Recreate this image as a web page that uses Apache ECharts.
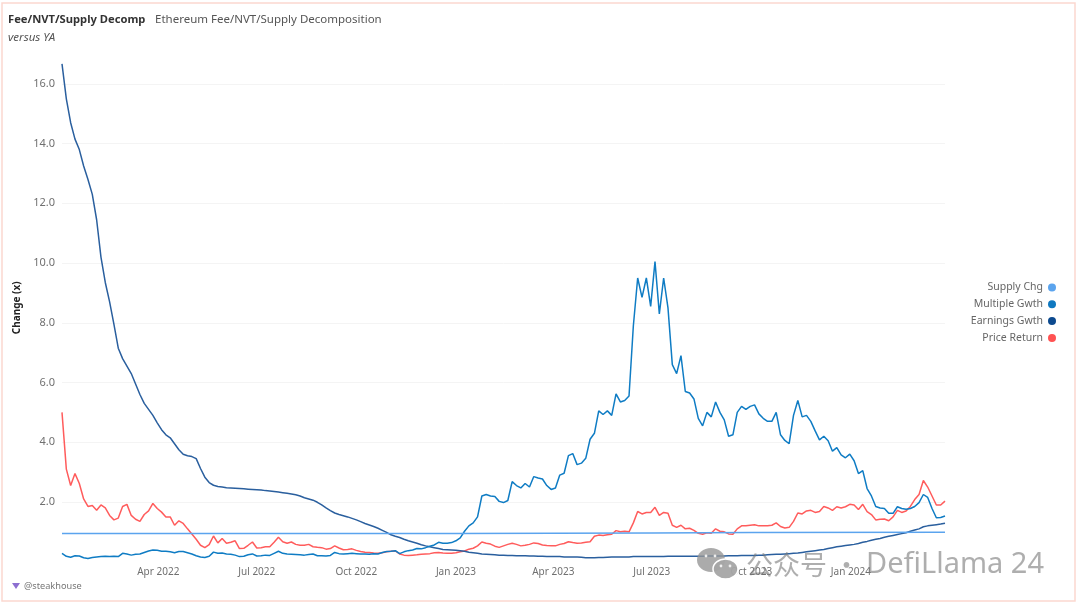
<!DOCTYPE html>
<html>
<head>
<meta charset="utf-8">
<style>
  html, body { margin: 0; padding: 0; background: #fff; }
  #chart { width: 1080px; height: 608px; }
</style>
<script src="https://cdn.jsdelivr.net/npm/echarts@6/dist/echarts.min.js"></script>
</head>
<body>
<div id="chart"></div>
<script>
// sampled every 4 days from the first date
const firstDate = '2022-01-02';
const stepDays = 4;

const priceReturn = [
  5.0, 3.1, 2.55, 2.95, 2.62, 2.1, 1.85, 1.88, 1.72, 1.9,
  1.8, 1.55, 1.4, 1.46, 1.85, 1.92, 1.55, 1.42, 1.35, 1.58,
  1.7, 1.95, 1.78, 1.66, 1.5, 1.5, 1.22, 1.37, 1.28, 1.1,
  .93, .75, .55, .47, .57, .86, .63, .78, .62, .65,
  .7, .44, .45, .55, .66, .46, .47, .5, .5, .65,
  .82, .67, .62, .66, .58, .55, .55, .58, .5, .48,
  .47, .42, .44, .53, .46, .4, .41, .43, .38, .34,
  .32, .31, .29, .28, .3, .33, .35, .36, .26, .22,
  .21, .22, .23, .25, .26, .27, .3, .31, .29, .28,
  .28, .3, .33, .36, .42, .45, .53, .66, .62, .59,
  .52, .48, .53, .58, .62, .58, .53, .55, .58, .63,
  .61, .56, .54, .53, .53, .58, .61, .67, .64, .62,
  .63, .65, .67, .85, .89, .88, .9, .92, 1.04, 1.0,
  1.02, 1.0, 1.3, 1.68, 1.6, 1.65, 1.65, 1.82, 1.55, 1.65,
  1.62, 1.22, 1.15, 1.22, 1.1, 1.12, 1.05, .95, .92, .97,
  .95, 1.1, 1.02, 1.0, .93, .92, 1.1, 1.2, 1.2, 1.22,
  1.24, 1.2, 1.2, 1.2, 1.22, 1.3, 1.18, 1.13, 1.15, 1.35,
  1.63, 1.6, 1.7, 1.72, 1.65, 1.68, 1.85, 1.8, 1.72, 1.84,
  1.8, 1.84, 1.92, 1.9, 1.75, 1.92, 1.68, 1.58, 1.4, 1.42,
  1.43, 1.37, 1.5, 1.72, 1.65, 1.7, 1.85, 2.08, 2.25, 2.72,
  2.5, 2.2, 1.9, 1.9, 2.03
];

const multipleGwth = [
  .28, .18, .15, .2, .19, .13, .11, .14, .16, .17,
  .18, .17, .18, .17, .28, .26, .22, .25, .26, .31,
  .36, .39, .38, .35, .35, .33, .3, .34, .34, .3,
  .26, .2, .16, .14, .18, .32, .28, .29, .26, .25,
  .22, .17, .18, .23, .26, .19, .2, .22, .21, .28,
  .35, .28, .26, .25, .24, .23, .22, .24, .26, .2,
  .2, .19, .21, .31, .27, .26, .27, .28, .27, .26,
  .26, .25, .27, .26, .31, .34, .35, .37, .27, .33,
  .37, .39, .44, .43, .47, .52, .56, .65, .62, .62,
  .64, .7, .8, 1.02, 1.2, 1.3, 1.5, 2.2, 2.25, 2.2,
  2.18, 2.02, 1.98, 2.05, 2.68, 2.55, 2.47, 2.62, 2.5, 2.85,
  2.8, 2.77, 2.55, 2.42, 2.47, 2.9, 2.96, 3.55, 3.62, 3.25,
  3.3, 3.46, 4.1, 4.3, 5.05, 4.93, 5.05, 4.9, 5.62, 5.35,
  5.4, 5.55, 7.9, 9.5, 8.85, 9.5, 8.55, 10.05, 8.3, 9.5,
  8.5, 6.6, 6.3, 6.9, 5.7, 5.65, 5.45, 4.8, 4.55, 5.0,
  4.85, 5.35, 5.0, 4.75, 4.2, 4.25, 5.0, 5.2, 5.1, 5.2,
  5.25, 4.95, 4.8, 4.7, 4.7, 5.0, 4.25, 4.06, 3.95, 4.9,
  5.4, 4.85, 4.9, 4.7, 4.38, 4.08, 4.2, 4.05, 3.7, 3.82,
  3.58, 3.48, 3.6, 3.38, 2.95, 3.05, 2.45, 2.2, 1.85, 1.8,
  1.78, 1.62, 1.62, 1.84, 1.78, 1.76, 1.78, 1.85, 1.98, 2.25,
  2.15, 1.78, 1.47, 1.48, 1.53
];

const earningsGwth = [
  16.67, 15.5, 14.7, 14.15, 13.8, 13.25, 12.8, 12.3, 11.45, 10.2,
  9.35, 8.7, 7.95, 7.15, 6.8, 6.55, 6.3, 5.95, 5.6, 5.3,
  5.1, 4.9, 4.65, 4.42, 4.25, 4.15, 3.95, 3.75, 3.6, 3.55,
  3.52, 3.45, 3.12, 2.83, 2.65, 2.56, 2.52, 2.5, 2.48, 2.47,
  2.46, 2.45, 2.44, 2.43, 2.42, 2.41, 2.4, 2.38, 2.37, 2.35,
  2.33, 2.31, 2.29, 2.27, 2.24, 2.2, 2.14, 2.1, 2.06, 1.99,
  1.9, 1.8, 1.71, 1.63, 1.58, 1.54, 1.5, 1.45, 1.4, 1.34,
  1.28, 1.23, 1.18, 1.12, 1.05, .98, .9, .85, .81, .75,
  .7, .66, .62, .57, .53, .5, .47, .44, .41, .4,
  .39, .38, .37, .35, .32, .3, .28, .26, .25, .24,
  .23, .22, .22, .21, .21, .2, .2, .2, .19, .19,
  .18, .18, .17, .17, .17, .17, .16, .16, .16, .16,
  .15, .13, .13, .13, .14, .14, .15, .16, .16, .16,
  .16, .16, .17, .17, .17, .17, .17, .17, .17, .17,
  .18, .18, .18, .18, .18, .18, .18, .18, .18, .19,
  .19, .19, .19, .19, .2, .2, .2, .21, .21, .21,
  .21, .22, .22, .23, .24, .25, .25, .26, .27, .28,
  .29, .31, .33, .35, .37, .39, .41, .44, .47, .5,
  .52, .54, .56, .58, .61, .65, .68, .72, .75, .78,
  .82, .85, .88, .91, .94, .97, 1.02, 1.06, 1.1, 1.17,
  1.2, 1.22, 1.24, 1.26, 1.29
];

const supplyDates = ['2022-01-02', '2022-07-01', '2023-01-01', '2023-07-01', '2023-10-01', '2024-03-28'];
const supplyChg = [.945, .945, .945, .965, .975, .985];

const tickDates = ['2022-04-01', '2022-07-01', '2022-10-01', '2023-01-01', '2023-04-01', '2023-07-01', '2023-10-01', '2024-01-01'];
const tickLabels = ['Apr 2022', 'Jul 2022', 'Oct 2022', 'Jan 2023', 'Apr 2023', 'Jul 2023', 'Oct 2023', 'Jan 2024'];

const fontName = '"Noto Sans", sans-serif';

function toTime(s) {
  const p = s.split('-');
  return new Date(+p[0], +p[1] - 1, +p[2]).getTime();
}

const dates = priceReturn.map(function (v, i) {
  const p = firstDate.split('-');
  return new Date(+p[0], +p[1] - 1, +p[2] + i * stepDays).getTime();
});

const tickTimes = tickDates.map(toTime);

function pairs(xs, ys) {
  return ys.map(function (v, i) { return [xs[i], v]; });
}

function lineSeries(name, color, dotColor, data, z) {
  return {
    name: name,
    type: 'line',
    data: data,
    z: z,
    showSymbol: false,
    symbol: 'none',
    smooth: false,
    animation: false,
    lineStyle: { color: color, width: 1.5 },
    itemStyle: { color: dotColor }
  };
}

function eye(cx, cy) {
  return { type: 'circle', silent: true, z: 22, shape: { cx: cx, cy: cy, r: 1.4 }, style: { fill: '#eee' } };
}

const chart = echarts.init(document.getElementById('chart'));

chart.setOption({
  backgroundColor: '#fff',
  animation: false,
  textStyle: { fontFamily: fontName },
  title: [
    { text: 'Fee/NVT/Supply Decomp', left: 3, top: 9, textStyle: { fontFamily: fontName, fontSize: 11.2, fontWeight: 'bold', color: '#333' } },
    { text: 'Ethereum Fee/NVT/Supply Decomposition', left: 150, top: 9, textStyle: { fontFamily: fontName, fontSize: 11.5, fontWeight: 'normal', color: '#555' } },
    { text: 'versus YA', left: 3, top: 27, textStyle: { fontFamily: fontName, fontSize: 11.5, fontWeight: 'normal', fontStyle: 'italic', color: '#555' } }
  ],
  legend: {
    orient: 'vertical',
    right: 19,
    top: 277,
    align: 'right',
    icon: 'circle',
    itemWidth: 8,
    itemHeight: 8,
    itemGap: 5.8,
    data: ['Supply Chg', 'Multiple Gwth', 'Earnings Gwth', 'Price Return'],
    textStyle: { fontFamily: fontName, fontSize: 10.5, color: '#666' }
  },
  grid: { left: 62, right: 135, top: 54, height: 507.7 },
  // date axis kept as plain milliseconds so the quarter labels can sit at fixed dates
  xAxis: {
    type: 'value',
    min: toTime(firstDate),
    max: toTime('2024-03-28'),
    axisLine: { show: false },
    axisTick: { show: false },
    splitLine: { show: false },
    axisLabel: {
      customValues: tickTimes,
      margin: 5,
      fontFamily: fontName,
      fontSize: 10,
      color: '#707070',
      hideOverlap: false,
      formatter: function (value) {
        const k = tickTimes.indexOf(+value);
        return k >= 0 ? tickLabels[k] : '';
      }
    }
  },
  yAxis: {
    type: 'value',
    min: 0,
    max: 17,
    interval: 2,
    name: 'Change (x)',
    nameLocation: 'middle',
    nameGap: 25,
    nameTextStyle: { fontFamily: fontName, fontSize: 10, fontWeight: 'bold', color: '#222' },
    axisLine: { show: false },
    axisTick: { show: false },
    axisLabel: {
      margin: 7,
      showMinLabel: false,
      showMaxLabel: false,
      fontFamily: fontName,
      fontSize: 11,
      color: '#707070',
      formatter: function (v) { return v.toFixed(1); }
    },
    splitLine: { show: true, showMinLine: false, showMaxLine: false, lineStyle: { color: '#f4f4f4', width: 1 } }
  },
  series: [
    lineSeries('Price Return', '#ff5c5c', '#ff5252', pairs(dates, priceReturn), 2),
    lineSeries('Earnings Gwth', '#2a5f9e', '#0c4a8f', pairs(dates, earningsGwth), 3),
    lineSeries('Multiple Gwth', '#0f7cc4', '#0f78c0', pairs(dates, multipleGwth), 4),
    lineSeries('Supply Chg', '#5ba4ee', '#5ba4ee', pairs(supplyDates.map(toTime), supplyChg), 5)
  ],
  graphic: [
    // pink frame round the picture
    { type: 'rect', silent: true, z: 0, shape: { x: 2, y: 3, width: 1073, height: 598 }, style: { fill: 'none', stroke: '#fcd8cf', lineWidth: 1.5 } },
    // footer mark
    { type: 'polygon', silent: true, shape: { points: [[12, 583], [20, 583], [16, 589]] }, style: { fill: '#8d6fd1' } },
    { type: 'text', silent: true, style: { x: 24, y: 586, text: '@steakhouse', fill: '#777', font: '9.2px ' + fontName, textVerticalAlign: 'middle' } },
    // wechat watermark
    { type: 'ellipse', silent: true, z: 20, shape: { cx: 711, cy: 560, rx: 14, ry: 12 }, style: { fill: 'rgba(150,150,150,0.8)' } },
    { type: 'ellipse', silent: true, z: 21, shape: { cx: 725.5, cy: 569, rx: 12.5, ry: 10 }, style: { fill: 'rgba(165,165,165,0.95)', stroke: '#fff', lineWidth: 1.5 } },
    eye(706, 556), eye(715, 556), eye(721, 566), eye(730, 566),
    { type: 'text', silent: true, z: 21, style: { x: 746, y: 565, text: '公众号 ·', fill: 'rgba(120,120,120,0.6)', font: '27px "Noto Sans CJK SC", ' + fontName, textVerticalAlign: 'middle' } },
    { type: 'text', silent: true, z: 21, style: { x: 866, y: 565, text: 'DefiLlama 24', fill: 'rgba(120,120,120,0.6)', font: '29px ' + fontName, textVerticalAlign: 'middle' } }
  ]
});
</script>
</body>
</html>
